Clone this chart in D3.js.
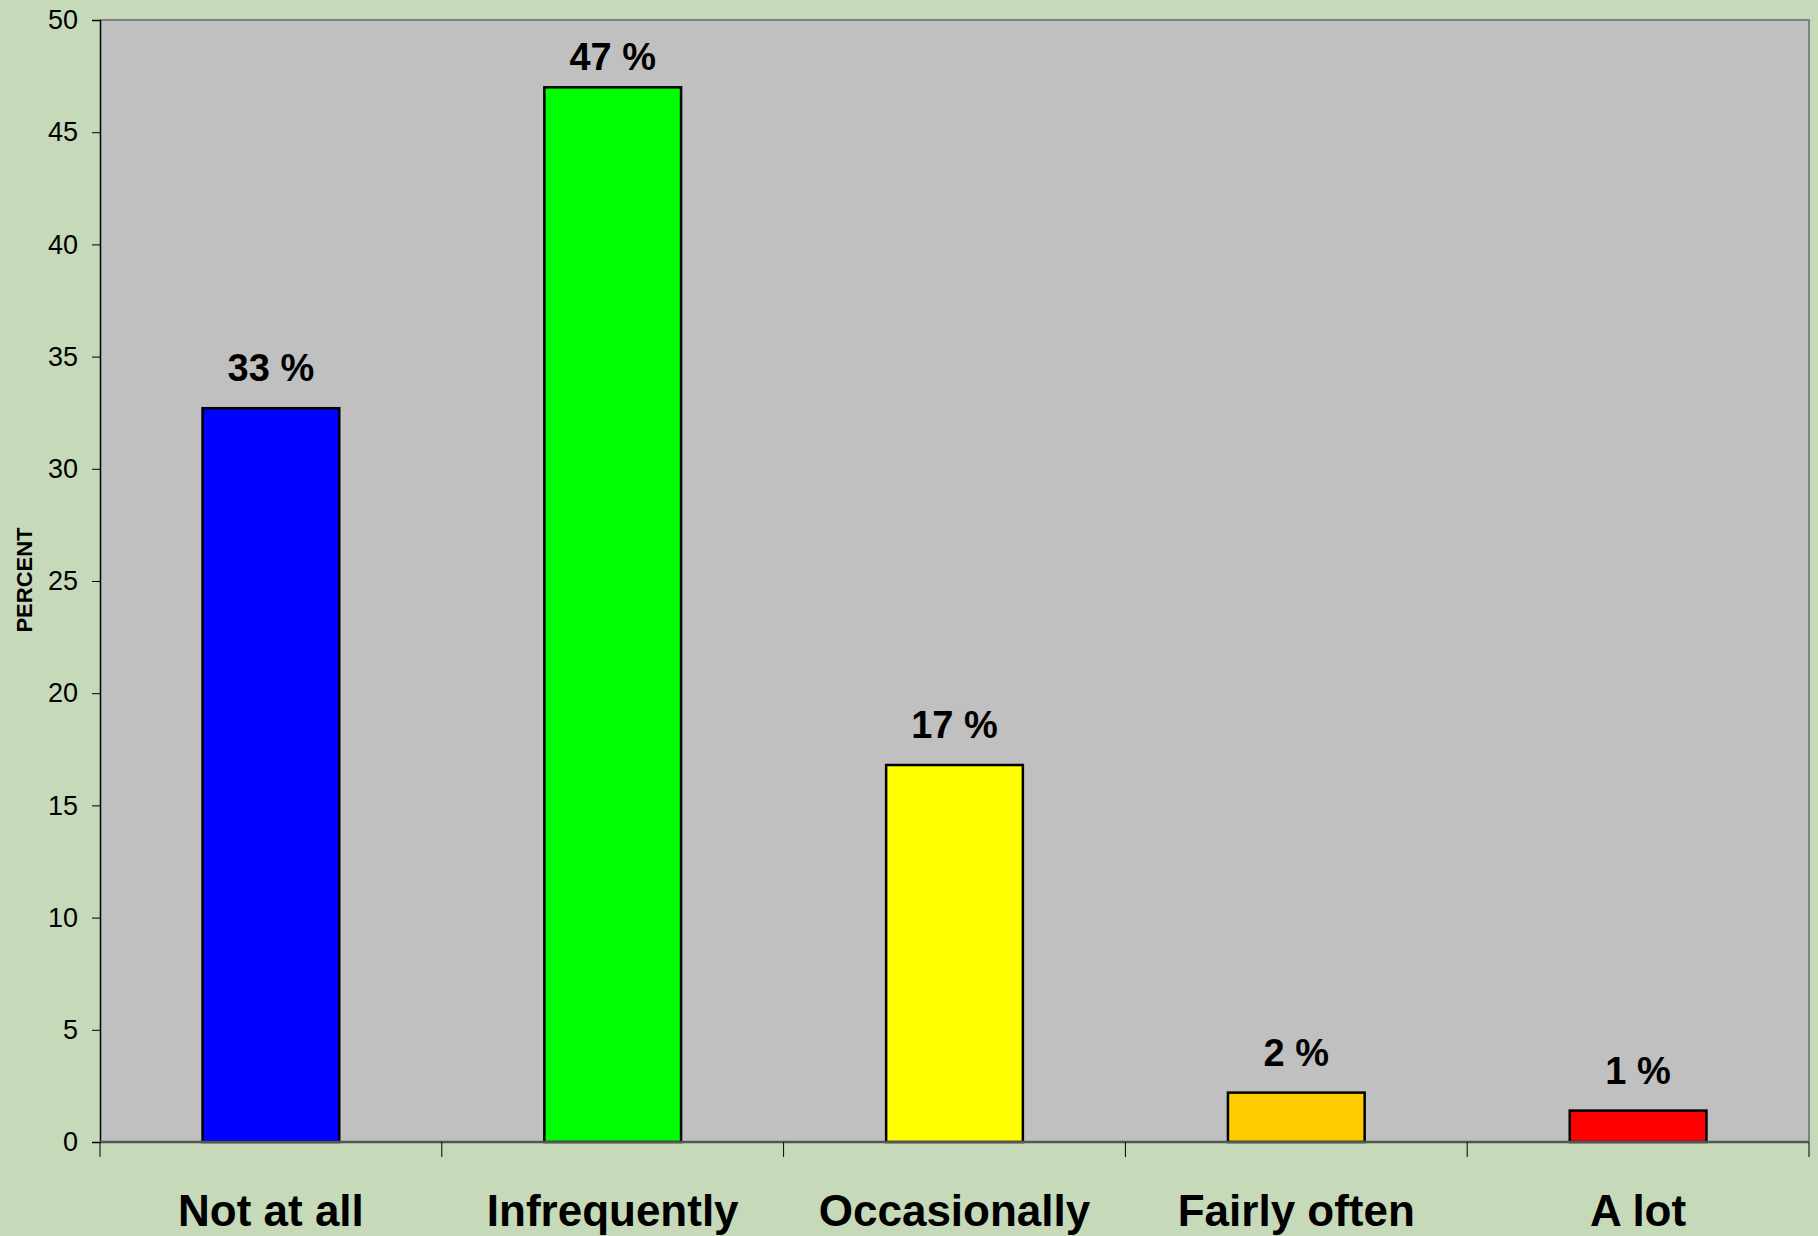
<!DOCTYPE html>
<html>
<head>
<meta charset="utf-8">
<script src="https://cdn.jsdelivr.net/npm/d3@7"></script>
<style>
  html, body { margin: 0; padding: 0; background: #c6dab9; overflow: hidden; }
  text { font-family: "Liberation Sans", Arial, sans-serif; }
</style>
</head>
<body>
<div class="container"></div>
<script>
const categories = ["Not at all", "Infrequently", "Occasionally", "Fairly often", "A lot"];
const values = [32.7, 47.0, 16.8, 2.2, 1.4];
const valueLabels = ["33 %", "47 %", "17 %", "2 %", "1 %"];
const barColors = ["#0000ff", "#00ff00", "#ffff00", "#ffcc00", "#ff0000"];
const yTicks = [0, 5, 10, 15, 20, 25, 30, 35, 40, 45, 50];

function barChart() {
    const W = 1818, H = 1236;
    const plot = {left: 100, right: 1809, top: 20, bottom: 1142};

    let svg = d3.select('.container')
        .append('svg')
        .attr('width', W)
        .attr('height', H)
        .style('display', 'block');

    let xScale = d3.scaleBand().domain(categories).range([plot.left, plot.right]);
    let yScale = d3.scaleLinear().domain([0, 50]).range([plot.bottom, plot.top]);

    // plot background
    svg.append('rect')
        .attr('x', plot.left)
        .attr('y', plot.top)
        .attr('width', plot.right - plot.left)
        .attr('height', plot.bottom - plot.top)
        .attr('fill', '#c0c0c0');

    // grey frame on top and right
    svg.append('path')
        .attr('d', `M${plot.left},${plot.top}H${plot.right}V${plot.bottom}`)
        .attr('fill', 'none')
        .attr('stroke', '#808080')
        .attr('stroke-width', 2);

    // y axis
    let yAxis = d3.axisLeft(yScale).tickValues(yTicks).tickSize(8).tickPadding(14);
    let gy = svg.append('g')
        .attr('transform', 'translate(' + plot.left + ',0)')
        .call(yAxis);
    gy.select('.domain').attr('stroke', '#000').attr('stroke-width', 1.5);
    gy.selectAll('.tick line').attr('stroke', '#000');
    gy.selectAll('.tick text')
        .attr('fill', '#000')
        .style('font-size', '27px')
        .style('font-family', '"Liberation Sans", Arial, sans-serif');

    // bars
    const barW = xScale.bandwidth() * 0.4;
    svg.selectAll('rect.bar')
        .data(values)
        .enter().append('rect')
        .attr('class', 'bar')
        .attr('x', (d, i) => xScale(categories[i]) + (xScale.bandwidth() - barW) / 2)
        .attr('y', d => yScale(d))
        .attr('width', barW)
        .attr('height', d => yScale(0) - yScale(d))
        .attr('fill', (d, i) => barColors[i])
        .attr('stroke', '#000')
        .attr('stroke-width', 2.5);

    // value labels (kept inside the plot area, like the 47 % one)
    svg.selectAll('text.val')
        .data(values)
        .enter().append('text')
        .attr('class', 'val')
        .attr('x', (d, i) => xScale(categories[i]) + xScale.bandwidth() / 2)
        .attr('y', d => Math.max(yScale(d) - 27, plot.top + 50))
        .attr('text-anchor', 'middle')
        .style('font-size', '38px')
        .style('font-weight', 'bold')
        .text((d, i) => valueLabels[i]);

    // x axis (ticks on band edges)
    let gx = svg.append('g');
    gx.append('line')
        .attr('x1', plot.left).attr('x2', plot.right)
        .attr('y1', plot.bottom).attr('y2', plot.bottom)
        .attr('stroke', '#555')
        .attr('stroke-width', 2.5);
    let edges = categories.map(c => xScale(c)).concat([plot.right]);
    gx.selectAll('line.tk')
        .data(edges)
        .enter().append('line')
        .attr('class', 'tk')
        .attr('x1', d => d).attr('x2', d => d)
        .attr('y1', plot.bottom).attr('y2', plot.bottom + 15)
        .attr('stroke', '#000')
        .attr('stroke-width', 1);
    gx.selectAll('text.cat')
        .data(categories)
        .enter().append('text')
        .attr('class', 'cat')
        .attr('x', d => xScale(d) + xScale.bandwidth() / 2)
        .attr('y', 1226)
        .attr('text-anchor', 'middle')
        .style('font-size', '44px')
        .style('font-weight', 'bold')
        .text(d => d);

    // y axis title
    svg.append('text')
        .attr('transform', 'translate(32,580) rotate(-90)')
        .attr('text-anchor', 'middle')
        .style('font-size', '22px')
        .style('font-weight', 'bold')
        .text('PERCENT');
}

barChart();
</script>
</body>
</html>
